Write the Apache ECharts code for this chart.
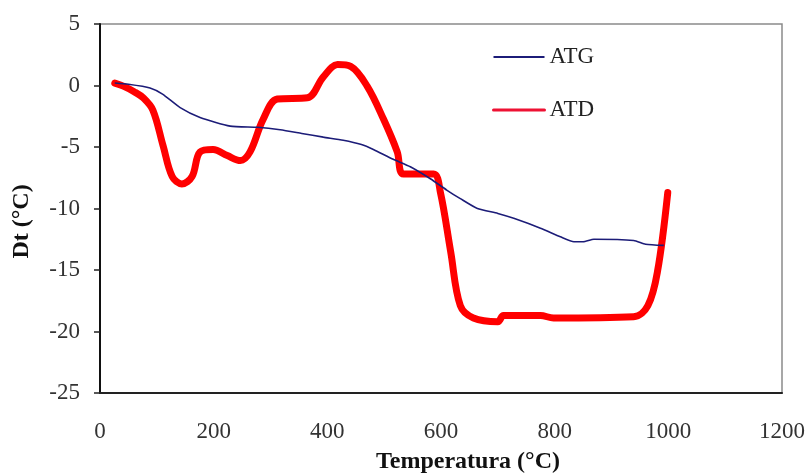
<!DOCTYPE html>
<html>
<head>
<meta charset="utf-8">
<script src="https://cdn.jsdelivr.net/npm/echarts@6/dist/echarts.min.js"></script>
<style>
html,body{margin:0;padding:0;background:#fff;}
#chart{width:811px;height:475px;}
</style>
</head>
<body>
<div id="chart"></div>
<script>
// ---- data ----
var atgTemp = [26, 50, 88, 110, 141, 176, 229, 277, 317, 355, 393, 428, 460, 481, 516, 546, 582, 610, 634, 664, 700, 728, 775, 810, 834, 850, 869, 939, 960, 992];
var atgVal  = [0.2, 0.1, -0.2, -0.7, -1.8, -2.6, -3.3, -3.4, -3.6, -3.9, -4.2, -4.45, -4.8, -5.2, -6.0, -6.6, -7.6, -8.5, -9.2, -10.0, -10.4, -10.8, -11.6, -12.3, -12.7, -12.7, -12.5, -12.6, -12.9, -13.0];

var atdTemp = [26, 41, 60, 76, 93, 111, 127, 144, 162, 176, 199, 224, 247, 264, 287, 312, 365, 393, 418, 441, 470, 499, 523, 534, 587, 599, 617, 634, 657, 700, 710, 775, 798, 939, 964, 981, 999];
var atdVal  = [0.2, -0.05, -0.5, -1.0, -2.0, -4.9, -7.4, -8.0, -7.4, -5.4, -5.2, -5.7, -6.1, -5.4, -2.75, -1.1, -1.0, 0.7, 1.7, 1.55, -0.05, -2.75, -5.4, -7.2, -7.2, -8.7, -13.5, -17.9, -18.9, -19.2, -18.7, -18.7, -18.9, -18.8, -17.9, -15.1, -8.7];

var xTicks = [0, 200, 400, 600, 800, 1000, 1200];
var yTicks = [-25, -20, -15, -10, -5, 0, 5];

function pairs(xs, ys) {
  return xs.map(function (x, i) { return [x, ys[i]]; });
}

var font = '"Liberation Serif", "DejaVu Serif", serif';
var chart = echarts.init(document.getElementById('chart'));
chart.setOption({
  animation: false,
  backgroundColor: '#ffffff',
  grid: {
    left: 100, right: 29, top: 24, bottom: 82,
    outerBoundsMode: 'none', containLabel: false,
    show: true, borderColor: '#8a8a8a', borderWidth: 1.5, backgroundColor: 'transparent'
  },
  legend: {
    orient: 'vertical',
    left: 487, top: 40,
    itemWidth: 51, itemHeight: 14,
    itemGap: 29,
    textStyle: { fontFamily: font, fontSize: 23, lineHeight: 24, color: '#222' },
    data: [
      { name: 'ATG', lineStyle: { width: 2, color: '#1c1c78' }, itemStyle: { opacity: 0 } },
      { name: 'ATD', lineStyle: { width: 3, color: '#ee1133' }, itemStyle: { opacity: 0 } }
    ]
  },
  xAxis: {
    type: 'value',
    min: xTicks[0], max: xTicks[xTicks.length - 1], interval: 200,
    splitLine: { show: false },
    axisTick: { show: false },
    axisLine: { show: true, onZero: false, lineStyle: { color: '#222', width: 2 } },
    axisLabel: { fontFamily: font, fontSize: 23, color: '#333', margin: 27, formatter: function (v) { return String(v); } },
    name: 'Temperatura (°C)',
    nameLocation: 'middle',
    nameGap: 57,
    nameTextStyle: { fontFamily: font, fontSize: 24, fontWeight: 'bold', color: '#111', padding: [0, 0, 0, 54] }
  },
  yAxis: {
    type: 'value',
    min: yTicks[0], max: yTicks[yTicks.length - 1], interval: 5,
    splitLine: { show: false },
    axisTick: { show: true, inside: false, length: 6, lineStyle: { color: '#222', width: 1.5 } },
    axisLine: { show: true, onZero: false, lineStyle: { color: '#111', width: 2 } },
    axisLabel: { fontFamily: font, fontSize: 23, color: '#333', margin: 20 },
    name: 'Dt (°C)',
    nameLocation: 'middle',
    nameGap: 66,
    nameRotate: 90,
    nameTextStyle: { fontFamily: font, fontSize: 24, fontWeight: 'bold', color: '#111', padding: [0, 26, 0, 0] }
  },
  series: [
    {
      name: 'ATG', type: 'line', data: pairs(atgTemp, atgVal),
      symbol: 'none', smooth: 0.2,
      lineStyle: { color: '#1c1c78', width: 1.6 },
      itemStyle: { color: '#1c1c78' },
      z: 3
    },
    {
      name: 'ATD', type: 'line', data: pairs(atdTemp, atdVal),
      symbol: 'none', smooth: 0.35,
      lineStyle: { color: '#ff0000', width: 7, cap: 'round', join: 'round' },
      itemStyle: { color: '#ff0000' },
      z: 2
    }
  ]
});
</script>
</body>
</html>
